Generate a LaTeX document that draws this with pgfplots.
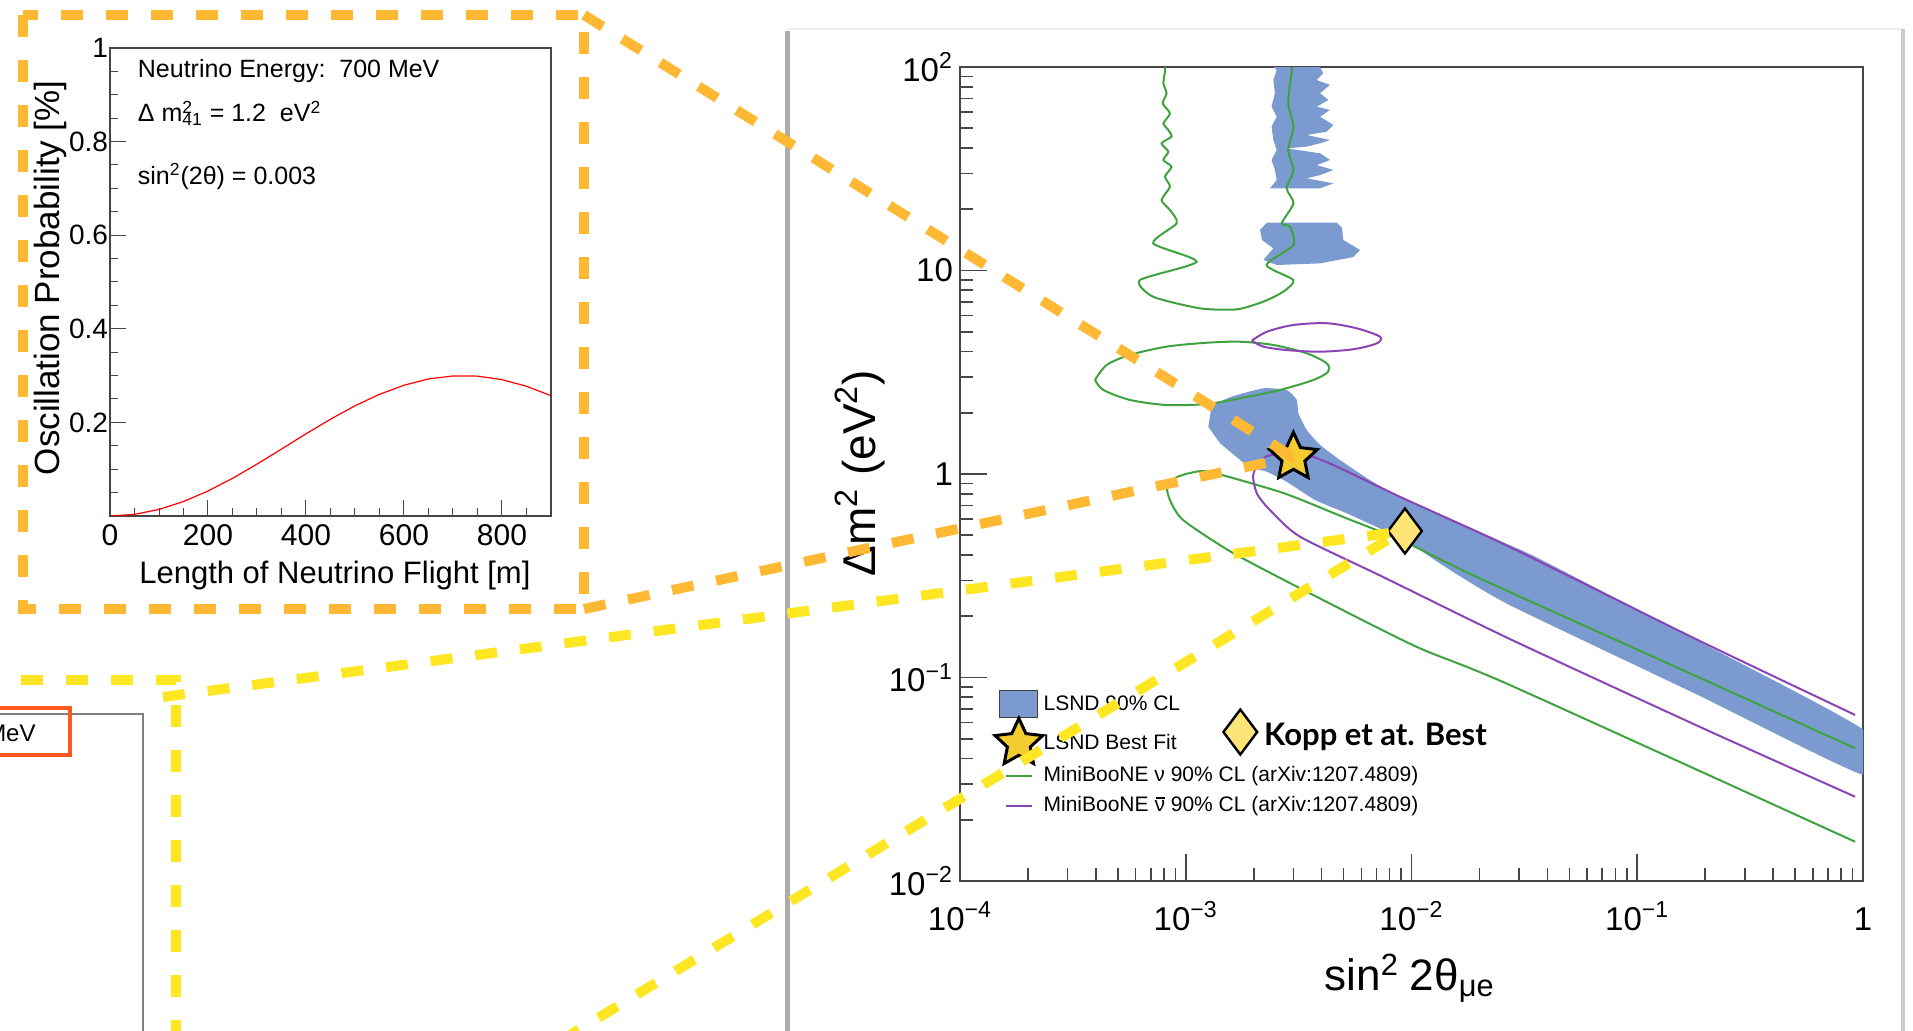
\documentclass[border=0pt]{standalone}
\usepackage{pgfplots}
\pgfplotsset{compat=1.18}
\usepackage{fontspec}
\setmainfont{Liberation Sans}
\newfontfamily\koppfont{Lato}
\definecolor{lsnd}{RGB}{122,154,208}
\definecolor{mbgreen}{RGB}{62,163,62}
\definecolor{mbpurple}{RGB}{138,68,182}
\definecolor{dashorange}{RGB}{255,184,51}
\definecolor{dashyellow}{RGB}{255,230,34}
\definecolor{boxred}{RGB}{255,88,34}
\definecolor{stargold}{RGB}{242,204,48}
\definecolor{diamyellow}{RGB}{255,228,120}
\definecolor{framegray}{RGB}{70,70,70}
\newcommand{\nubar}{\leavevmode\rlap{\hspace{0.06em}\rule[0.62em]{0.44em}{0.06em}}ν}

\pgfdeclareplotmark{fstar}{%
  \pgfpathmoveto{\pgfpointpolar{90}{\pgfplotmarksize}}%
  \pgfpathlineto{\pgfpointpolar{126}{0.48\pgfplotmarksize}}%
  \pgfpathlineto{\pgfpointpolar{162}{\pgfplotmarksize}}%
  \pgfpathlineto{\pgfpointpolar{198}{0.48\pgfplotmarksize}}%
  \pgfpathlineto{\pgfpointpolar{234}{\pgfplotmarksize}}%
  \pgfpathlineto{\pgfpointpolar{270}{0.48\pgfplotmarksize}}%
  \pgfpathlineto{\pgfpointpolar{306}{\pgfplotmarksize}}%
  \pgfpathlineto{\pgfpointpolar{342}{0.48\pgfplotmarksize}}%
  \pgfpathlineto{\pgfpointpolar{18}{\pgfplotmarksize}}%
  \pgfpathlineto{\pgfpointpolar{54}{0.48\pgfplotmarksize}}%
  \pgfpathclose
  \pgfusepathqfillstroke}

\begin{document}
\begin{tikzpicture}
\path[use as bounding box] (0pt,0pt) rectangle (956.5pt,-515.5pt);

% ---------- frames (pixel units) ----------
\begin{scope}[x=0.5pt,y=-0.5pt]
  \draw[gray!12, line width=0.6pt] (787,29) -- (1903,29);
  \draw[gray!65, line width=2.5pt] (787,31) -- (787,1040);
  \draw[gray!40, line width=2pt] (1903,29) -- (1903,1040);
  \draw[gray, line width=0.6pt] (-5,714) -- (143,714) -- (143,1040);
  \draw[boxred, line width=2pt] (-10,708) rectangle (70,755);
  \node[anchor=base east, font=\fontsize{12}{14}\selectfont, inner sep=0pt] at (36,742) {MeV};
\end{scope}

% ---------- left inset: oscillation probability ----------
\begin{axis}[
  at={(55pt,-258pt)}, anchor=south west,
  scale only axis, width=220.5pt, height=234pt,
  xmin=0, xmax=900, ymin=0, ymax=1,
  xtick={0,200,400,600,800},
  xticklabels={0,200,400,600,800},
  ytick={0.2,0.4,0.6,0.8,1},
  yticklabels={0.2,0.4,0.6,0.8,1},
  minor xtick={50,100,150,250,300,350,450,500,550,650,700,750,850},
  minor ytick={0.05,0.1,0.15,0.25,0.3,0.35,0.45,0.5,0.55,0.65,0.7,0.75,0.85,0.9,0.95},
  tick align=inside, xtick pos=bottom, ytick pos=left,
  major tick length=8pt, minor tick length=4pt,
  tick style={framegray, line width=0.5pt},
  axis line style={draw=framegray, line width=0.6pt},
  xticklabel style={font=\fontsize{15}{17}\selectfont, anchor=base, yshift=-15pt},
  yticklabel style={font=\fontsize{14}{16}\selectfont, anchor=east, xshift=2.5pt},
  xlabel={Length of Neutrino Flight [m]},
  ylabel={Oscillation Probability [\%]},
  xlabel style={font=\fontsize{15.5}{18}\selectfont, at={(axis description cs:0.510,-0.128)}, anchor=center},
  ylabel style={font=\fontsize{17.5}{20}\selectfont, at={(axis description cs:-0.136,0.509)}, anchor=center},
]
\addplot[red, line width=0.6pt] coordinates {
(0,0) (50,0.0035) (100,0.0140) (150,0.0309) (200,0.0534) (250,0.0804)
(300,0.1108) (350,0.1430) (400,0.1756) (450,0.2068) (500,0.2355)
(550,0.2600) (600,0.2794) (650,0.2928) (700,0.2993) (750,0.2989)
(800,0.2913) (850,0.2772) (900,0.2571)};
\node[anchor=base west, font=\fontsize{12.5}{14}\selectfont, inner sep=0pt]
  at (axis description cs:0.0624,0.938) {Neutrino Energy:\ \ 700 MeV};
\node[anchor=base west, font=\fontsize{12.5}{14}\selectfont, inner sep=0pt]
  at (axis description cs:0.0624,0.842) {Δ m\rlap{\textsuperscript{2}}\textsubscript{41} = 1.2\ \ eV\textsuperscript{2}};
\node[anchor=base west, font=\fontsize{12.5}{14}\selectfont, inner sep=0pt]
  at (axis description cs:0.0624,0.709) {sin\textsuperscript{2}(2θ) = 0.003};
\end{axis}

% ---------- main exclusion plot (log10 values) ----------
\begin{axis}[
  at={(480pt,-440.5pt)}, anchor=south west,
  scale only axis, width=451.5pt, height=407pt,
  xmin=-4, xmax=0, ymin=-2, ymax=2,
  xtick={-4,-3,-2,-1,0},
  xticklabels={10\textsuperscript{−4},10\textsuperscript{−3},10\textsuperscript{−2},10\textsuperscript{−1},1},
  ytick={-2,-1,0,1,2},
  yticklabels={10\textsuperscript{−2},10\textsuperscript{−1},1,10,10\textsuperscript{2}},
  minor xtick={-3.699,-3.523,-3.398,-3.301,-3.222,-3.155,-3.097,-3.046,
               -2.699,-2.523,-2.398,-2.301,-2.222,-2.155,-2.097,-2.046,
               -1.699,-1.523,-1.398,-1.301,-1.222,-1.155,-1.097,-1.046,
               -0.699,-0.523,-0.398,-0.301,-0.222,-0.155,-0.097,-0.046},
  minor ytick={-1.699,-1.523,-1.398,-1.301,-1.222,-1.155,-1.097,-1.046,
               -0.699,-0.523,-0.398,-0.301,-0.222,-0.155,-0.097,-0.046,
               0.301,0.477,0.602,0.699,0.778,0.845,0.903,0.954,
               1.301,1.477,1.602,1.699,1.778,1.845,1.903,1.954},
  tick align=inside, xtick pos=bottom, ytick pos=left,
  major tick length=13.5pt, minor tick length=6.5pt,
  tick style={framegray, line width=0.8pt},
  axis line style={draw=framegray, line width=1pt},
  ticklabel style={font=\fontsize{16.5}{19}\selectfont},
  xticklabel style={anchor=base, yshift=-24.5pt},
  xlabel={sin\textsuperscript{2}\hspace{0.25em}2θ\textsubscript{μe}},
  ylabel={Δm\textsuperscript{2} (eV\textsuperscript{2})},
  xlabel style={font=\fontsize{22}{25}\selectfont, at={(axis description cs:0.498,-0.119)}, anchor=center},
  ylabel style={font=\fontsize{23}{26}\selectfont, at={(axis description cs:-0.111,0.501)}, anchor=center},
  legend style={at={(axis description cs:0.0384,0.2350)}, anchor=north west,
    draw=none, fill=none, inner sep=0pt, row sep=0pt,
    nodes={inner sep=0.5pt}, font=\fontsize{10.5}{12}\selectfont,
    column 1/.style={anchor=center}},
  legend cell align=left,
]
% legend
\addlegendimage{legend image code/.code={\draw[fill=lsnd, draw=darkgray, line width=0.6pt] (-9.5pt,-6.75pt) rectangle (9.5pt,6.75pt);}}
\addlegendentry{LSND 90\% CL}
\addlegendimage{legend image code/.code={\draw[fill=stargold, draw=black, line width=1.5pt, mark size=12.5pt] plot[mark=fstar] coordinates {(0pt,0pt)};}}
\addlegendentry{LSND Best Fit}
\addlegendimage{legend image code/.code={\path[draw=none,fill=none] (-6.5pt,-6pt) rectangle (6.5pt,6pt); \draw[mbgreen, line width=1pt] (-6.5pt,0pt) -- (6.5pt,0pt);}}
\addlegendentry{MiniBooNE ν 90\% CL (arXiv:1207.4809)}
\addlegendimage{legend image code/.code={\path[draw=none,fill=none] (-6.5pt,-6pt) rectangle (6.5pt,9pt); \draw[mbpurple, line width=1pt] (-6.5pt,0pt) -- (6.5pt,0pt);}}
\addlegendentry{MiniBooNE \nubar\ 90\% CL (arXiv:1207.4809)}

% LSND allowed band
\addplot[fill=lsnd, draw=none, smooth, tension=0.3] coordinates {
(-2.900,0.232) (-2.893,0.282) (-2.878,0.339) (-2.789,0.383) (-2.656,0.421)
(-2.553,0.413) (-2.508,0.364) (-2.501,0.298) (-2.464,0.216) (-2.405,0.143)
(-2.317,0.069) (-2.184,-0.030) (-2.051,-0.112) (-1.829,-0.220) (-1.564,-0.350)
(-1.431,-0.418) (-0.722,-0.826) (0,-1.256) (0,-1.478) (-0.722,-1.091)
(-1.564,-0.645) (-1.829,-0.472) (-2.051,-0.308) (-2.125,-0.275) (-2.287,-0.193)
(-2.427,-0.128) (-2.553,-0.038) (-2.641,0.011) (-2.724,0.039) (-2.848,0.151)};
% LSND island near 10 eV^2
\addplot[fill=lsnd, draw=none] coordinates {
(-2.641,1.235) (-2.331,1.235) (-2.308,1.209) (-2.302,1.150) (-2.228,1.101)
(-2.258,1.066) (-2.405,1.035) (-2.597,1.027) (-2.656,1.052) (-2.612,1.109)
(-2.662,1.150) (-2.671,1.199)};
% LSND high dm2 region
\addplot[fill=lsnd, draw=none] coordinates {
(-2.612,2.0) (-2.405,2.0) (-2.391,1.969) (-2.420,1.936) (-2.361,1.912)
(-2.405,1.871) (-2.368,1.838) (-2.420,1.805) (-2.361,1.789) (-2.405,1.756)
(-2.346,1.715) (-2.376,1.682) (-2.464,1.666) (-2.361,1.641) (-2.405,1.625)
(-2.464,1.609) (-2.553,1.600) (-2.405,1.576) (-2.361,1.543) (-2.420,1.518)
(-2.346,1.494) (-2.405,1.469) (-2.464,1.453) (-2.346,1.428) (-2.405,1.404)
(-2.627,1.404) (-2.597,1.445) (-2.605,1.494) (-2.620,1.543) (-2.597,1.592)
(-2.612,1.641) (-2.620,1.707) (-2.597,1.756) (-2.620,1.805) (-2.605,1.871)
(-2.612,1.936) (-2.597,1.985)};

% MiniBooNE nu (green)
\addplot[mbgreen, line width=1pt, smooth, tension=0.4] coordinates {
(-3.092,2.000) (-3.092,1.977) (-3.099,1.920) (-3.085,1.871) (-3.102,1.821)
(-3.070,1.772) (-3.099,1.723) (-3.077,1.690) (-3.063,1.658) (-3.107,1.625)
(-3.077,1.584) (-3.099,1.543) (-3.063,1.510) (-3.092,1.461) (-3.070,1.412)
(-3.107,1.346) (-3.070,1.297) (-3.040,1.232) (-3.144,1.134) (-2.952,1.043)
(-3.203,0.953) (-3.144,0.871) (-2.937,0.814) (-2.774,0.809) (-2.656,0.847)
(-2.568,0.896) (-2.523,0.953) (-2.642,1.027) (-2.523,1.125) (-2.538,1.215)
(-2.575,1.232) (-2.523,1.330) (-2.553,1.404) (-2.523,1.494) (-2.546,1.592)
(-2.523,1.707) (-2.546,1.821) (-2.531,1.977) (-2.531,2.000)};
\addplot[mbgreen, line width=1pt, smooth, tension=0.5] coordinates {
(-3.402,0.462) (-3.350,0.536) (-3.247,0.585) (-3.084,0.626) (-2.907,0.645)
(-2.760,0.650) (-2.612,0.634) (-2.464,0.593) (-2.376,0.544) (-2.369,0.503)
(-2.435,0.462) (-2.583,0.413) (-2.760,0.372) (-2.907,0.344) (-3.084,0.339)
(-3.247,0.364) (-3.365,0.413) (-3.402,0.462)};
\addplot[mbgreen, line width=1pt, smooth, tension=0.4] coordinates {
(-0.035,-1.348) (-0.722,-1.002) (-1.697,-0.513) (-2.038,-0.329) (-2.303,-0.211)
(-2.569,-0.093) (-2.893,0.010) (-2.981,0.005) (-3.048,-0.020) (-3.083,-0.064)
(-3.070,-0.128) (-3.012,-0.226) (-2.791,-0.388) (-2.419,-0.604) (-1.976,-0.850)
(-1.564,-1.037) (-0.035,-1.807)};

% MiniBooNE anti-nu (purple)
\addplot[mbpurple, line width=1pt, smooth, tension=0.5] coordinates {
(-2.708,0.655) (-2.641,0.699) (-2.524,0.732) (-2.376,0.741) (-2.243,0.716)
(-2.140,0.675) (-2.154,0.642) (-2.258,0.613) (-2.405,0.601) (-2.553,0.609)
(-2.656,0.626) (-2.708,0.655)};
\addplot[mbpurple, line width=1pt, smooth, tension=0.4] coordinates {
(-0.035,-1.184) (-0.722,-0.821) (-1.564,-0.359) (-2.051,-0.112) (-2.317,0.029)
(-2.436,0.084) (-2.551,0.102) (-2.640,0.088) (-2.684,0.044) (-2.702,-0.015)
(-2.684,-0.098) (-2.627,-0.177) (-2.494,-0.308) (-2.126,-0.506) (-1.564,-0.811)
(-0.722,-1.243) (-0.035,-1.586)};

% best fit points
\addplot[only marks, mark=fstar, mark size=12.5pt,
  mark options={fill=stargold, draw=black, line width=1.5pt}] coordinates {(-2.523,0.082)};
\addplot[only marks, mark=diamond*, mark size=11.25pt,
  mark options={fill=diamyellow, draw=black, line width=1.2pt}] coordinates {(-2.029,-0.280)};
\end{axis}

% ---------- Kopp legend entry ----------
\begin{axis}[
  at={(480pt,-440.5pt)}, anchor=south west,
  scale only axis, width=451.5pt, height=407pt,
  hide axis, xmin=0, xmax=1, ymin=0, ymax=1,
  legend style={at={(axis description cs:0.2913,0.1830)}, anchor=west,
    draw=none, fill=none, inner sep=0pt, column sep=3pt,
    nodes={inner sep=0.5pt}, font=\koppfont\bfseries\fontsize{15.5}{17}\selectfont},
]
\addlegendimage{legend image code/.code={\draw[fill=diamyellow, draw=black, line width=1.2pt, mark size=11.25pt] plot[mark=diamond*] coordinates {(0pt,0pt)};}}
\addlegendentry{\raisebox{-3.5pt}{Kopp et at. Best}}
\end{axis}

% ---------- zoom call-out dashed lines (pixel units) ----------
\begin{scope}[x=0.5pt,y=-0.5pt, line width=5pt, dash pattern=on 11pt off 11.5pt]
  \draw[dashorange] (23,15) rectangle (584,609);
  \draw[dashorange] (584,15) -- (1293,457);
  \draw[dashorange] (584,609) -- (1293,457);
  \draw[dashyellow] (21,680) -- (176,680) -- (176,1045);
  \draw[dashyellow] (163,697) -- (1390,533);
  \draw[dashyellow] (560,1041) -- (1394,536);
\end{scope}
\end{tikzpicture}
\end{document}
